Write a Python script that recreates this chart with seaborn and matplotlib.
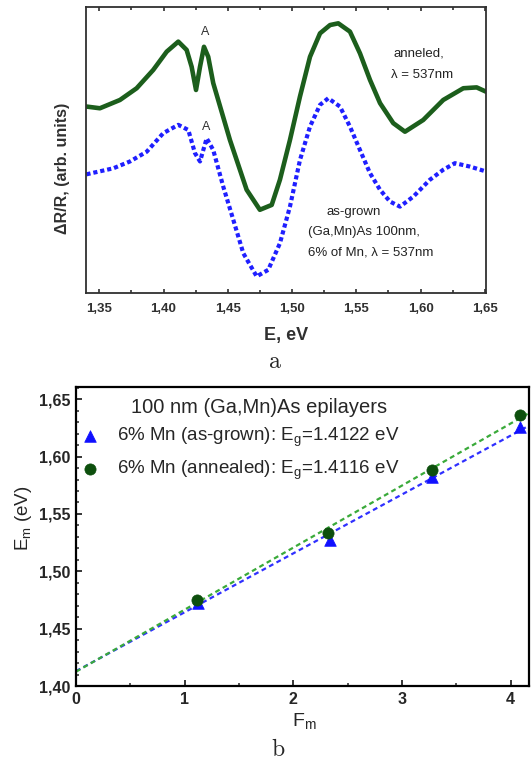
import matplotlib
matplotlib.use('Agg')
import matplotlib.pyplot as plt
import seaborn as sns
from matplotlib.ticker import MultipleLocator, FuncFormatter

# panel a: photoreflectance spectra, dR/R in arb. units
energy_annealed = [1.3400, 1.3505, 1.3661, 1.3791, 1.3920, 1.4025, 1.4115, 1.4180,
                   1.4219, 1.4253, 1.4284, 1.4315, 1.4348, 1.4387, 1.4517, 1.4647,
                   1.4750, 1.4842, 1.4906, 1.4984, 1.5062, 1.5140, 1.5218, 1.5296,
                   1.5360, 1.5451, 1.5529, 1.5607, 1.5685, 1.5788, 1.5879, 1.6021,
                   1.6177, 1.6333, 1.6437, 1.6510]
dr_annealed = [65.3, 64.7, 67.6, 71.7, 78.1, 84.5, 88.0, 85.1,
               79.2, 71.1, 79.2, 86.2, 82.7, 73.5, 53.6, 36.2,
               29.2, 30.9, 39.7, 53.6, 68.8, 82.7, 90.9, 93.8,
               94.4, 91.5, 83.9, 74.6, 66.5, 59.5, 56.5, 60.6,
               67.6, 71.7, 72.0, 70.5]

energy_asgrown = [1.3400, 1.3609, 1.3739, 1.3869, 1.3998, 1.4115, 1.4193, 1.4245,
                  1.4284, 1.4336, 1.4387, 1.4465, 1.4543, 1.4621, 1.4725, 1.4815,
                  1.4906, 1.4984, 1.5062, 1.5140, 1.5218, 1.5282, 1.5373, 1.5451,
                  1.5529, 1.5607, 1.5685, 1.5762, 1.5840, 1.5944, 1.6073, 1.6177,
                  1.6268, 1.6385, 1.6510]
dr_asgrown = [41.6, 43.7, 46.1, 49.5, 56.0, 58.9, 57.1, 49.0,
              46.1, 54.2, 50.1, 37.3, 25.7, 14.0, 5.9, 8.2,
              17.5, 30.3, 46.6, 58.3, 65.9, 68.2, 65.3, 58.3,
              50.1, 42.0, 36.2, 32.1, 30.3, 33.8, 39.7, 43.2,
              45.5, 44.3, 42.6]

# panel b: E_m versus F_m with linear fits
fm_asgrown = [1.126, 2.340, 3.275, 4.088]
em_asgrown = [1.472, 1.527, 1.582, 1.626]
fm_annealed = [1.111, 2.323, 3.275, 4.088]
em_annealed = [1.475, 1.533, 1.588, 1.636]
fit_fm = [0.0, 4.17]
fit_asgrown = [1.413, 1.627]
fit_annealed = [1.4125, 1.638]

label_asgrown = r'6% Mn (as-grown): E$_\mathregular{g}$=1.4122 eV'
label_annealed = r'6% Mn (annealed): E$_\mathregular{g}$=1.4116 eV'

sns.set_theme(style='ticks')
plt.rcParams['font.family'] = ['Liberation Sans', 'DejaVu Sans']
plt.rcParams['mathtext.fontset'] = 'custom'
plt.rcParams['mathtext.rm'] = 'Liberation Sans'
plt.rcParams['mathtext.it'] = 'Liberation Sans:italic'
plt.rcParams['mathtext.default'] = 'regular'
plt.rcParams['xtick.direction'] = 'in'
plt.rcParams['ytick.direction'] = 'in'

green_a = '#1c5e1c'
blue_a = '#1f1fff'
green_b = '#0d4f0d'
blue_b = '#1010ff'
green_fit = '#3aaa3a'
blue_fit = '#3030ff'
gray = '#303030'

comma = FuncFormatter(lambda v, p: f'{v:.2f}'.replace('.', ','))

fig = plt.figure(figsize=(5.32, 7.62), dpi=100)

# ---- panel a ----
ax_a = fig.add_axes([0.1617, 0.6151, 0.7519, 0.3753])
sns.lineplot(x=energy_annealed, y=dr_annealed, ax=ax_a, color=green_a, lw=3.3,
             sort=False, estimator=None)
sns.lineplot(x=energy_asgrown, y=dr_asgrown, ax=ax_a, color=blue_a, lw=3.0,
             sort=False, estimator=None, linestyle=(0, (1.0, 0.7)))
ax_a.set_xlim(1.3397, 1.651)
ax_a.set_ylim(0, 100)
ax_a.set_yticks([])
ax_a.xaxis.set_major_locator(MultipleLocator(0.05))
ax_a.xaxis.set_minor_locator(MultipleLocator(0.025))
ax_a.xaxis.set_major_formatter(comma)
ax_a.tick_params(axis='x', which='both', top=True, bottom=True, color=gray,
                 labelsize=9.5, pad=7, labelcolor=gray)
ax_a.tick_params(axis='x', which='major', length=3, width=1.2)
ax_a.tick_params(axis='x', which='minor', length=2, width=1.2)
for lab in ax_a.get_xticklabels():
    lab.set_fontweight('bold')
for sp in ax_a.spines.values():
    sp.set_color(gray)
    sp.set_linewidth(1.3)
ax_a.set_xlabel('E, eV', fontsize=13, fontweight='bold', color=gray)
ax_a.xaxis.set_label_coords(0.5, -0.117)
ax_a.xaxis.label.set_va('top')
ax_a.set_ylabel(r'ΔR/R, (arb. units)', fontsize=11.5, fontweight='bold', color=gray)
ax_a.yaxis.set_label_coords(-0.04, 0.438)

ax_a.text(1.4323, 91.5, 'A', fontsize=9, color=gray, ha='center', va='center')
ax_a.text(1.4330, 58.3, 'A', fontsize=9, color=gray, ha='center', va='center')
ax_a.text(1.5990, 83.9, 'anneled,', fontsize=9.5, color='#222222', ha='center', va='center')
ax_a.text(1.6009, 76.3, 'λ = 537nm', fontsize=9.5, color='#222222', ha='center', va='center')
ax_a.text(1.5477, 28.6, 'as-grown', fontsize=9.5, color='#222222', ha='center', va='center')
ax_a.text(1.5126, 21.5, '(Ga,Mn)As 100nm,', fontsize=9.5, color='#222222', ha='left', va='center')
ax_a.text(1.5126, 14.4, '6% of Mn, λ = 537nm', fontsize=9.5, color='#222222', ha='left', va='center')

fig.text(275 / 532, 1 - 362 / 762, r'$\mathrm{a}$', math_fontfamily='cm', fontsize=17,
         ha='center', va='center')

# ---- panel b ----
ax_b = fig.add_axes([0.1429, 0.0997, 0.8515, 0.392])
sns.lineplot(x=fit_fm, y=fit_asgrown, ax=ax_b, color=blue_fit, lw=1.6,
             linestyle=(0, (2.2, 1.6)), estimator=None, zorder=2)
sns.lineplot(x=fit_fm, y=fit_annealed, ax=ax_b, color=green_fit, lw=1.6,
             linestyle=(0, (2.2, 1.6)), estimator=None, zorder=2)
sns.scatterplot(x=fm_asgrown, y=em_asgrown, ax=ax_b, marker='^', s=70, color=blue_b,
                edgecolor=blue_b, linewidth=0.5, zorder=4, label=label_asgrown)
sns.scatterplot(x=fm_annealed, y=em_annealed, ax=ax_b, marker='o', s=65, color=green_b,
                edgecolor=green_b, linewidth=0.5, zorder=5, label=label_annealed)
ax_b.set_xlim(0, 4.17)
ax_b.set_ylim(1.40, 1.6604)
ax_b.xaxis.set_major_locator(MultipleLocator(1))
ax_b.xaxis.set_minor_locator(MultipleLocator(0.5))
ax_b.yaxis.set_major_locator(MultipleLocator(0.05))
ax_b.yaxis.set_minor_locator(MultipleLocator(0.01))
ax_b.yaxis.set_major_formatter(comma)
ax_b.tick_params(which='both', top=False, right=False, labelsize=11.5, pad=4)
ax_b.tick_params(which='major', length=4, width=1.3)
ax_b.tick_params(which='minor', length=2.2, width=1.1)
for lab in ax_b.get_xticklabels() + ax_b.get_yticklabels():
    lab.set_fontweight('bold')
for sp in ax_b.spines.values():
    sp.set_color('black')
    sp.set_linewidth(1.6)

ax_b.set_xlabel(r'F$_\mathregular{m}$', fontsize=14)
ax_b.xaxis.set_label_coords(0.505, -0.084)
ax_b.xaxis.label.set_va('top')
ax_b.set_ylabel(r'E$_\mathregular{m}$ (eV)', fontsize=13.5)
ax_b.yaxis.set_label_coords(-0.093, 0.562)

ax_b.text(0.403, 0.931, '100 nm (Ga,Mn)As epilayers', transform=ax_b.transAxes,
          fontsize=14.5, ha='center', va='center')
ax_b.legend(loc='upper left', bbox_to_anchor=(0.0095, 0.870), frameon=False,
            fontsize=13.5, handlelength=1.0, handletextpad=0.95, borderpad=0,
            borderaxespad=0, labelspacing=0.5)

fig.text(278 / 532, 1 - 750 / 762, r'$\mathrm{b}$', math_fontfamily='cm', fontsize=17,
         ha='center', va='center')

fig.savefig('out.png', dpi=100)
